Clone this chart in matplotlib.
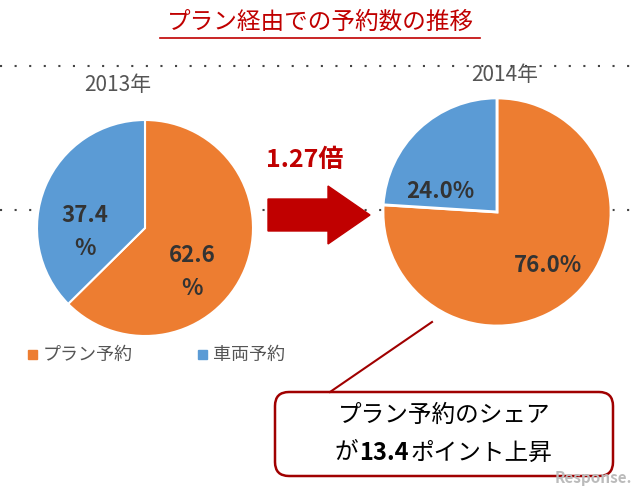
import matplotlib.pyplot as plt
from matplotlib.patches import FancyArrow, FancyBboxPatch, Rectangle

plt.rcParams["font.family"] = "Noto Sans CJK JP"

years = ["2013年", "2014年"]
labels = ["プラン予約", "車両予約"]
share_2013 = [62.6, 37.4]
share_2014 = [76.0, 24.0]
colors = ["#ED7D31", "#5B9BD5"]

fig = plt.figure(figsize=(6.4, 4.92), dpi=100)
ax = fig.add_axes([0, 0, 1, 1])
ax.set_xlim(0, 640)
ax.set_ylim(492, 0)
ax.set_aspect("equal")
ax.axis("off")

# title
ax.text(320, 22, "プラン経由での予約数の推移", color="#C00000", fontsize=17,
        ha="center", va="center")
ax.plot([160, 480], [38, 38], color="#C00000", lw=1.2)
ax.plot([0, 640], [66, 66], color="#444444", lw=1.5, ls=(0, (1, 6)))
ax.plot([0, 640], [210, 210], color="#444444", lw=1.5, ls=(0, (1, 6)), zorder=0)

# y axis is inverted, so counterclock=True draws clockwise on screen
ax.pie(share_2013, colors=colors, startangle=-90, counterclock=True,
       center=(145, 228), radius=108, frame=True,
       wedgeprops=dict(edgecolor="white", linewidth=1.5))
ax.text(118, 85, years[0], fontsize=15, color="#555555", ha="center", va="center")
ax.text(85, 232, f"{share_2013[1]}\n%", fontsize=16, fontweight="bold",
        color="#333333", ha="center", va="center", linespacing=1.6)
ax.text(192, 272, f"{share_2013[0]}\n%", fontsize=16, fontweight="bold",
        color="#333333", ha="center", va="center", linespacing=1.6)

ax.pie(share_2014, colors=colors, startangle=-90, counterclock=True,
       center=(497, 212), radius=114, explode=[0, 0.08], frame=True,
       wedgeprops=dict(edgecolor="white", linewidth=2))
ax.text(505, 75, years[1], fontsize=15, color="#555555", ha="center", va="center")
ax.text(440, 192, f"{share_2014[1]:.1f}%", fontsize=16, fontweight="bold",
        color="#333333", ha="center", va="center")
ax.text(548, 265, f"{share_2014[0]:.1f}%", fontsize=16, fontweight="bold",
        color="#333333", ha="center", va="center")

ax.set_xlim(0, 640)
ax.set_ylim(492, 0)
ax.axis("off")

# arrow
ax.add_patch(FancyArrow(268, 215, 60, 0, width=32, head_width=58, head_length=42,
                        length_includes_head=False, color="#C00000"))
ax.text(305, 160, "1.27倍", color="#C00000", fontsize=18, fontweight="bold",
        ha="center", va="center")

# legend
for i, (lab, c) in enumerate(zip(labels, colors)):
    x0 = 28 + i * 170
    ax.add_patch(Rectangle((x0, 350), 9, 9, color=c))
    ax.text(x0 + 15, 355, lab, fontsize=13, color="#555555", va="center")

# callout
ax.plot([330, 432], [392, 322], color="#A00000", lw=1.5)
ax.add_patch(FancyBboxPatch((275, 392), 338, 84, boxstyle="round,pad=0,rounding_size=14",
                            facecolor="white", edgecolor="#A00000", lw=1.8))
ax.text(444, 415, "プラン予約のシェア", fontsize=17, ha="center", va="center")
ax.text(346, 453, "が", fontsize=17, ha="center", va="center")
ax.text(359, 453, "13.4", fontsize=17, fontweight="bold", ha="left", va="center")
ax.text(411, 453, "ポイント上昇", fontsize=17, ha="left", va="center")

ax.text(632, 478, "Response.", fontsize=11, color="#BBBBBB", ha="right",
        va="center", style="italic", fontweight="bold")

fig.savefig("out.png", dpi=100)
